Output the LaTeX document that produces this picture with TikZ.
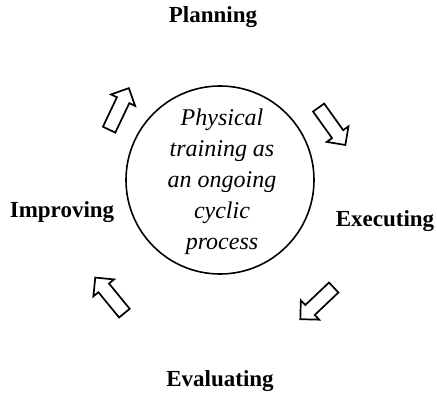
\documentclass[tikz,border=0pt]{standalone}
\usepackage{fontspec}
\setmainfont{Liberation Serif}
\usetikzlibrary{shapes.arrows}
\tikzset{
  stage/.style={font=\fontsize{23}{27}\selectfont\bfseries, anchor=base, inner sep=0pt},
  hub/.style={circle, draw, line width=1.6pt, minimum size=188pt, inner sep=0pt},
  flow/.style={single arrow, draw, line width=1.7pt, minimum height=46pt,
    minimum width=25pt, single arrow head extend=6.5pt, single arrow head indent=0pt,
    inner sep=6pt, fill=white}
}
\begin{document}
\begin{tikzpicture}[x=1pt,y=-1pt]
  \useasboundingbox (0,0) rectangle (437,393);
  % central cycle
  \node[hub] (hub) at (220,180) {};
  \node[align=center, font=\fontsize{24}{31}\selectfont\itshape, inner sep=0pt] (core) at (222,182)
    {Physical\\training as\\an ongoing\\cyclic\\process};
  % stage labels
  \node[stage] (plan) at (213,23) {Planning};
  \node[stage] (exec) at (385,227) {Executing};
  \node[stage] (eval) at (220,386) {Evaluating};
  \node[stage] (impr) at (62,218) {Improving};
  % arrows around the cycle
  \node[flow, rotate=64.6] (a1) at (117.5,112) {};
  \node[flow, rotate=-54.4] (a2) at (330,123.5) {};
  \node[flow, rotate=-136.5] (a3) at (319.5,301) {};
  \node[flow, rotate=129.3] (a4) at (112,298) {};
\end{tikzpicture}
\end{document}
